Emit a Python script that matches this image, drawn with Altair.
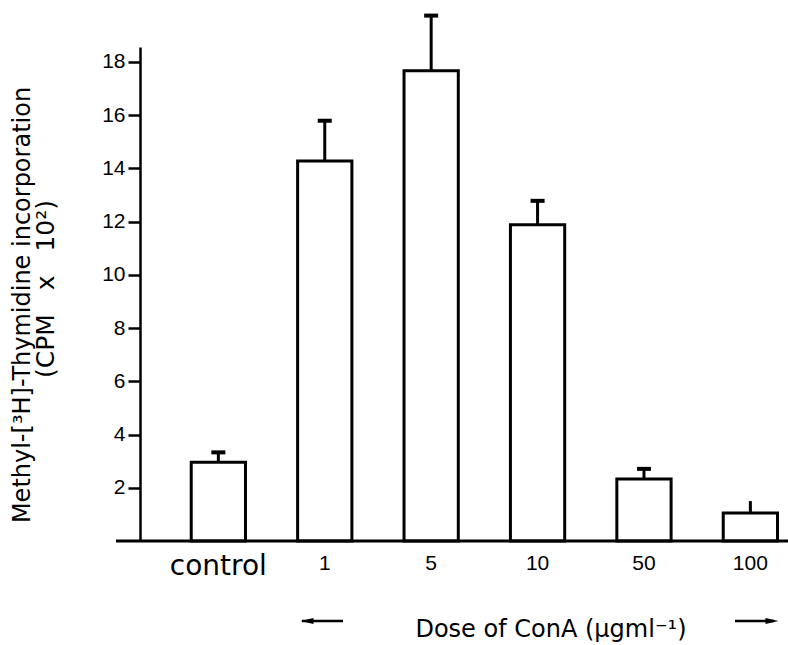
import altair as alt
import pandas as pd

# ---- data ----
doses = ["control", "1", "5", "10", "50", "100"]
means = [2.96, 14.28, 17.67, 11.88, 2.33, 1.05]
sems = [0.37, 1.51, 2.07, 0.90, 0.38, 0.45]
y_tick_values = [2, 4, 6, 8, 10, 12, 14, 16, 18]
y_title_line1 = "Methyl-[³H]-Thymidine incorporation"
y_title_line2 = "(CPM\u00a0\u00a0\u00a0x\u00a0\u00a0\u00a010²)"
x_title = "Dose of ConA (μgml⁻¹)"

df = pd.DataFrame({"dose": doses, "mean": means, "sem": sems})
df["upper"] = df["mean"] + df["sem"]

W, H = 648, 494

xscale = alt.Scale(domain=doses, paddingInner=0.49, paddingOuter=0.29, align=0.83)
yscale = alt.Scale(domain=[0, 18.56], nice=False, zero=True)

xaxis = alt.Axis(
    title=None, domain=False, ticks=False, labelAngle=0, labelPadding=11,
    labelColor="black",
    labelFont={"condition": {"test": "datum.value === 'control'", "value": "DejaVu Sans"}, "value": "Liberation Sans"},
    labelFontSize={"condition": {"test": "datum.value === 'control'", "value": 28}, "value": 21},
)
yaxis = alt.Axis(
    title=None, values=y_tick_values, grid=False, tickSize=12, tickWidth=2.5,
    tickColor="black", domainColor="black", domainWidth=2.5, labelPadding=3,
    labelFont="Liberation Sans", labelFontSize=21, labelColor="black",
)

X = alt.X("dose:N", scale=xscale, sort=doses, axis=xaxis)

base = alt.Chart(df)
bars = base.mark_bar(fill="white", stroke="black", strokeWidth=3).encode(
    x=X, y=alt.Y("mean:Q", scale=yscale, axis=yaxis)
)
err = base.mark_rule(color="black", strokeWidth=3, opacity=1).encode(
    x=X, y=alt.Y("mean:Q", scale=yscale, axis=yaxis), y2="upper:Q"
)
caps = base.transform_filter("datum.dose !== '100'").mark_tick(
    color="black", size=14, thickness=4, opacity=1
).encode(x=X, y=alt.Y("upper:Q", scale=yscale, axis=yaxis))

one = pd.DataFrame({"a": [0]})

x_line = alt.Chart(one).mark_rule(color="black", strokeWidth=3).encode(
    x=alt.value(-24), x2=alt.value(W), y=alt.value(H)
)

t1 = alt.Chart(pd.DataFrame({"t": [y_title_line1]})).mark_text(
    angle=270, font="DejaVu Sans", fontSize=24, color="black", align="center", baseline="middle"
).encode(text="t:N", x=alt.value(-117), y=alt.value(258))
t2 = alt.Chart(pd.DataFrame({"t": [y_title_line2]})).mark_text(
    angle=270, font="DejaVu Sans", fontSize=25, color="black", align="center", baseline="middle"
).encode(text="t:N", x=alt.value(-94), y=alt.value(242))
tx = alt.Chart(pd.DataFrame({"t": [x_title]})).mark_text(
    font="DejaVu Sans", fontSize=24, color="black", align="center", baseline="alphabetic"
).encode(text="t:N", x=alt.value(411), y=alt.value(590))

arrow_l = alt.Chart(one).mark_rule(color="black", strokeWidth=2.5).encode(
    x=alt.value(162), x2=alt.value(203), y=alt.value(574)
)
arrow_r = alt.Chart(one).mark_rule(color="black", strokeWidth=2.5).encode(
    x=alt.value(595), x2=alt.value(634), y=alt.value(574)
)
head_l = alt.Chart(one).mark_point(
    shape="M -1 0 L 1 -0.45 L 1 0.45 Z", filled=True, size=170, color="black", opacity=1
).encode(x=alt.value(167), y=alt.value(574))
head_r = alt.Chart(one).mark_point(
    shape="M 1 0 L -1 -0.45 L -1 0.45 Z", filled=True, size=170, color="black", opacity=1
).encode(x=alt.value(632), y=alt.value(574))

chart = alt.layer(
    bars, err, caps, x_line, t1, t2, tx, arrow_l, arrow_r, head_l, head_r
).properties(
    width=W, height=H,
    autosize="none",
    padding={"left": 140, "top": 47, "right": 0, "bottom": 104},
    background="white",
).configure_view(stroke=None)

chart.save("out.html", embed_options={"renderer": "svg", "actions": False})
